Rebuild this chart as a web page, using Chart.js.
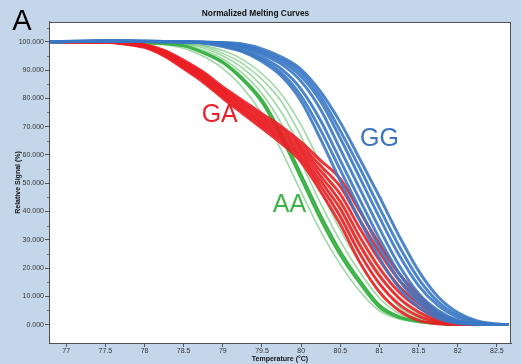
<!DOCTYPE html>
<html>
<head>
<meta charset="utf-8">
<script src="https://cdn.jsdelivr.net/npm/chart.js@4/dist/chart.umd.min.js"></script>
<style>
  html, body { margin: 0; padding: 0; background: #c4d7ea; }
  #wrap { width: 522px; height: 364px; }
</style>
</head>
<body>
<div id="wrap"><canvas id="melting" width="522" height="364"></canvas></div>
<script>
const temps = [76.8, 77.5, 77.75, 78, 78.25, 78.5, 78.75, 79, 79.25, 79.5, 79.75, 80,
  80.25, 80.5, 80.75, 81, 81.25, 81.5, 81.75, 82, 82.25, 82.5, 82.65];

// GG (blue) curves, relative signal %
const ggCurves = [
  [100, 100.2, 100.2, 100.1, 100, 99.9, 99.5, 98.3, 96.5, 93, 87.8, 79, 65.5, 50.8, 36.8, 23.6, 13, 6.2, 2.2, 0.5, 0.1, 0, 0],
  [100, 100.3, 100.2, 100.1, 100, 99.9, 99.6, 98.7, 96.7, 93.7, 88.9, 80.8, 68.7, 54.7, 40.7, 27.2, 15.8, 7.9, 3.2, 0.9, 0.15, 0, 0],
  [100, 100.3, 100.3, 100.2, 100.1, 100, 99.7, 99.1, 97.3, 94.5, 90.3, 83.2, 72.1, 58.1, 44.1, 30.4, 18.2, 9.3, 4.0, 1.2, 0.2, 0, 0],
  [100, 100.4, 100.3, 100.2, 100.1, 100, 99.8, 99.5, 98, 95.5, 92, 86, 76, 62, 48, 34, 21, 11, 5, 1.5, 0.3, 0, 0],
  [100, 100.3, 100.3, 100.2, 100.1, 100, 99.8, 99.6, 98.4, 96.2, 93, 87.7, 78.8, 65.9, 51.9, 37.9, 24.6, 13.8, 6.7, 2.5, 0.6, 0.1, 0],
  [100, 100.2, 100.3, 100.2, 100.1, 100, 99.9, 99.65, 98.8, 96.8, 93.8, 89.1, 80.5, 68.5, 55.3, 41.3, 27.8, 16.2, 8.1, 3.3, 0.9, 0.15, 0],
  [100, 100.3, 100.2, 100.1, 100, 100, 99.9, 99.7, 99.2, 97.5, 94.6, 90.2, 82.3, 71.5, 58.5, 45.2, 31.4, 19, 9.8, 4.3, 1.3, 0.25, 0]
];

// GA (red) curves
const gaCurves = [
  [100, 99.8, 99.2, 98, 95, 90.5, 85.7, 80, 74.7, 69.4, 64, 57.5, 47, 35.5, 22, 11.5, 5, 1.5, 0.3, 0, 0, 0, 0],
  [100, 99.9, 99.3, 98.2, 95.3, 91, 86.3, 80.7, 75.5, 70.3, 65, 58.7, 48.9, 38.2, 25.1, 14.4, 7.2, 3, 0.9, 0.2, 0, 0, 0],
  [100, 99.9, 99.4, 98.3, 95.7, 91.5, 86.9, 81.3, 76.2, 71.1, 66, 59.8, 50.7, 40.9, 28, 17.2, 9.4, 4.5, 1.5, 0.4, 0.05, 0, 0],
  [100, 99.9, 99.5, 98.5, 96, 92, 87.5, 82, 77, 72, 67, 61, 52.5, 43.5, 31, 20, 11.5, 6, 2.2, 0.6, 0.1, 0, 0],
  [100, 99.9, 99.5, 98.7, 96.3, 92.5, 88.1, 82.7, 77.8, 72.9, 68, 62.2, 54.3, 46.1, 34, 22.8, 13.6, 7.5, 2.9, 0.8, 0.15, 0, 0],
  [100, 100, 99.6, 98.8, 96.7, 93, 88.7, 83.3, 78.5, 73.7, 69, 63.3, 56.1, 48.8, 37, 25.6, 15.8, 9, 3.5, 1, 0.2, 0, 0],
  [100, 100, 99.7, 99, 97, 93.5, 89.3, 84, 79.3, 74.6, 70, 64.5, 58, 51.5, 40, 28.5, 18, 10.5, 4.2, 1.2, 0.2, 0, 0]
];

// AA (green) curves, the 2nd and 3rd are the bold ones
const aaCurves = [
  [100, 100, 99.7, 99.4, 99, 97.7, 94.9, 90.6, 83.9, 74.5, 61.4, 46.9, 33, 21.3, 11.8, 4.9, 2, 0.8, 0.2, 0, 0, 0, 0],
  [100, 100, 99.8, 99.5, 99.3, 98.5, 96, 92.5, 86.5, 78.5, 66, 51.5, 37, 24.5, 14.5, 6, 2.5, 1, 0.3, 0, 0, 0, 0],
  [100, 100, 99.8, 99.5, 99.3, 98.6, 96.3, 92.9, 87.2, 79.5, 67.5, 53.2, 38.7, 26, 15.7, 7, 2.9, 1.2, 0.4, 0.05, 0, 0, 0],
  [100, 100, 99.9, 99.6, 99.4, 98.8, 97, 93.9, 88.9, 81.7, 71, 57.3, 42.8, 29.5, 18.5, 9.4, 3.9, 1.6, 0.6, 0.1, 0, 0, 0],
  [100, 100, 99.9, 99.7, 99.5, 99.1, 97.8, 95, 90.8, 84.3, 75, 62, 47.4, 33.5, 21.7, 12.1, 5, 2.1, 0.8, 0.2, 0, 0, 0],
  [100, 100, 99.9, 99.8, 99.6, 99.3, 98.4, 95.9, 92.3, 86.7, 78.8, 66.5, 52.1, 37.6, 25, 14.9, 6.3, 2.6, 1, 0.3, 0.05, 0, 0],
  [100, 100, 100, 99.8, 99.7, 99.5, 98.8, 96.9, 93.8, 88.7, 81.4, 70.5, 56.7, 42.2, 29, 18.1, 9.1, 3.8, 1.5, 0.55, 0.1, 0, 0]
];
const aaBold = [1, 2];

// group labels placed in data coordinates
const groupLabels = [
  { text: 'GA', t: 78.96, v: 74.2, color: 'rgb(232, 32, 42)' },
  { text: 'GG', t: 81.0, v: 65.7, color: 'rgb(58, 116, 192)' },
  { text: 'AA', t: 79.85, v: 42.4, color: 'rgb(62, 178, 74)' }
];

function makeSet(curves, color, width, label) {
  return curves.map((vals, i) => ({
    label: label + (i + 1),
    data: vals.map((v, j) => ({ x: temps[j], y: v })),
    borderColor: typeof color === 'function' ? color(i) : color,
    borderWidth: typeof width === 'function' ? width(i) : width,
    pointRadius: 0,
    cubicInterpolationMode: 'monotone',
    fill: false
  }));
}

// first dataset ends up on top, so blue, then red, then green
const datasets = [
  ...makeSet(ggCurves, 'rgba(58, 120, 196, 0.9)', 2.9, 'GG'),
  ...makeSet(gaCurves, 'rgba(234, 30, 36, 0.9)', 2.9, 'GA'),
  ...makeSet(aaCurves,
    i => aaBold.includes(i) ? 'rgb(60, 178, 72)' : 'rgba(60, 178, 72, 0.5)',
    i => aaBold.includes(i) ? 2.4 : 1.6, 'AA')
];

const frame = {
  id: 'frame',
  beforeDraw(chart) {
    const { ctx, chartArea: a } = chart;
    ctx.save();
    ctx.fillStyle = '#c4d7ea';
    ctx.fillRect(0, 0, chart.width, chart.height);
    ctx.fillStyle = '#ffffff';
    ctx.fillRect(a.left, a.top, a.right - a.left, a.bottom - a.top);
    ctx.restore();
  },
  afterDraw(chart) {
    const { ctx, chartArea: a, scales } = chart;
    ctx.save();
    ctx.strokeStyle = '#505050';
    ctx.lineWidth = 1;
    ctx.strokeRect(a.left + 0.5, a.top + 0.5, a.right - a.left - 1, a.bottom - a.top);

    // minor ticks on the y axis
    ctx.strokeStyle = '#707070';
    for (let v = 0; v <= 105; v += 5) {
      if (v % 10 === 0) continue;
      const y = Math.round(scales.y.getPixelForValue(v)) + 0.5;
      ctx.beginPath();
      ctx.moveTo(a.left - 2, y);
      ctx.lineTo(a.left, y);
      ctx.stroke();
    }

    ctx.textAlign = 'center';
    ctx.textBaseline = 'middle';
    ctx.font = '25px Arial, "Liberation Sans", sans-serif';
    groupLabels.forEach(g => {
      ctx.fillStyle = g.color;
      ctx.fillText(g.text, scales.x.getPixelForValue(g.t), scales.y.getPixelForValue(g.v));
    });

    ctx.fillStyle = '#000000';
    ctx.font = '29px Arial, "Liberation Sans", sans-serif';
    ctx.textBaseline = 'alphabetic';
    ctx.fillText('A', 22, 30);
    ctx.restore();
  }
};

const tickFont = { family: 'Arial, "Liberation Sans", sans-serif', size: 7 };
const titleFont = { family: 'Arial, "Liberation Sans", sans-serif', size: 7, weight: 'bold' };

new Chart(document.getElementById('melting'), {
  type: 'line',
  data: { datasets },
  options: {
    responsive: false,
    animation: false,
    events: [],
    layout: { padding: { left: 0, right: 11, top: 0, bottom: 0 } },
    plugins: {
      legend: { display: false },
      tooltip: { enabled: false },
      title: {
        display: true,
        text: 'Normalized Melting Curves',
        color: '#111',
        font: { family: 'Arial, "Liberation Sans", sans-serif', size: 8.4, weight: 'bold' },
        padding: { top: 8.5, bottom: 3.4 }
      }
    },
    scales: {
      x: {
        type: 'linear',
        min: 76.78,
        max: 82.68,
        afterFit: s => { s.height = 21; },
        ticks: { stepSize: 0.5, includeBounds: false, color: '#333', font: tickFont, padding: 0, maxRotation: 0,
          callback: v => String(v) },
        grid: { drawOnChartArea: false, tickLength: 4, color: '#555' },
        border: { color: '#505050' },
        title: { display: true, text: 'Temperature (°C)', color: '#111', font: titleFont, padding: { top: 0, bottom: 0.8 } }
      },
      y: {
        min: -6.5,
        max: 107,
        afterFit: s => { s.width = 49; },
        ticks: { stepSize: 10, includeBounds: false, color: '#333', font: tickFont, padding: 1,
          callback: v => v.toFixed(3) },
        grid: { drawOnChartArea: false, tickLength: 4, color: '#555' },
        border: { color: '#505050' },
        title: { display: true, text: 'Relative Signal (%)', color: '#111', font: titleFont, padding: { top: 14.3, bottom: 0 } }
      }
    }
  },
  plugins: [frame]
});
</script>
</body>
</html>
